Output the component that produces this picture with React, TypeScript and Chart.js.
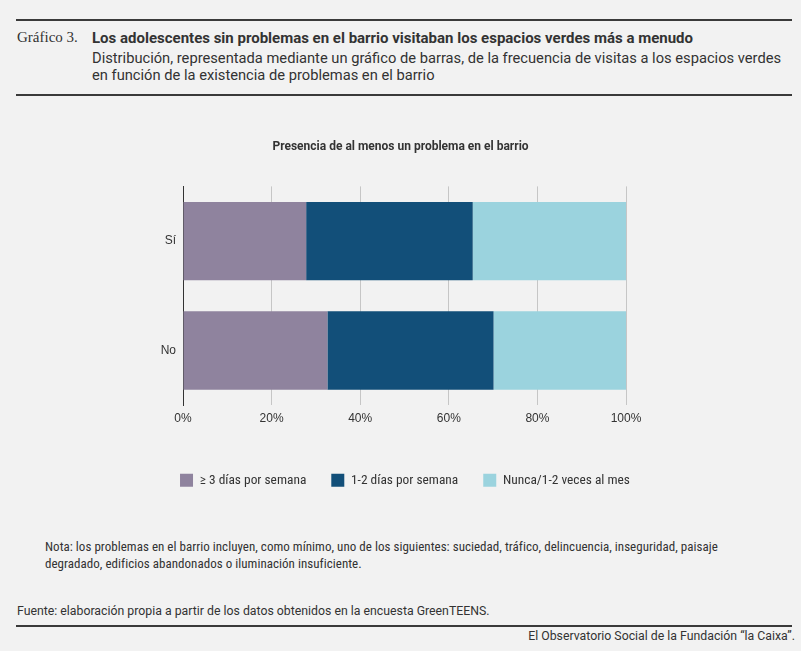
import React, { useEffect, useRef } from "react";
import { Chart, registerables } from "chart.js";

Chart.register(...registerables);

const categories = ["Sí", "No"];
const seriesLabels = ["≥ 3 días por semana", "1-2 días por semana", "Nunca/1-2 veces al mes"];
const frequentValues = [27.8, 32.6];
const weeklyValues = [37.6, 37.5];
const rarelyValues = [34.6, 29.9];
const seriesColors = ["#8f839e", "#124f79", "#9bd3de"];
const xTickValues = [0, 20, 40, 60, 80, 100];

const COND = "'Liberation Sans Narrow', 'Roboto Condensed', 'Liberation Sans', Arial, sans-serif";
const SANS = "Roboto, 'Liberation Sans', Arial, sans-serif";
const TEXT = "#333333";

function BarChart() {
  const ref = useRef<HTMLCanvasElement | null>(null);
  useEffect(() => {
    if (!ref.current) return;
    const chart = new Chart(ref.current, {
      type: "bar",
      data: {
        labels: categories,
        datasets: [frequentValues, weeklyValues, rarelyValues].map((d, i) => ({
          label: seriesLabels[i],
          data: d,
          backgroundColor: seriesColors[i],
          borderWidth: 0,
          barPercentage: 0.716,
          categoryPercentage: 1,
          yAxisID: "y",
        })),
      },
      options: {
        indexAxis: "y",
        animation: false,
        responsive: false,
        devicePixelRatio: 1,
        layout: { padding: { left: 17, right: 8, top: 0, bottom: 0 } },
        scales: {
          x: {
            stacked: true,
            min: 0,
            max: 100,
            afterBuildTicks: (s: any) => {
              s.ticks = xTickValues.map((v) => ({ value: v }));
            },
            ticks: {
              callback: (v: any) => v + "%",
              color: TEXT,
              font: { family: "'Liberation Sans', Arial, sans-serif", size: 12 },
              padding: 6,
              maxRotation: 0,
            },
            grid: { color: "#c6c6c6", lineWidth: 1, drawTicks: false },
            border: { display: false },
            afterFit: (s: any) => {
              s.height += 17;
            },
          },
          y: {
            stacked: true,
            position: "left",
            ticks: {
              color: TEXT,
              font: { family: "'Liberation Sans', Arial, sans-serif", size: 12 },
              padding: 7,
            },
            grid: { display: false, drawTicks: false },
            border: { display: true, color: "#333333", width: 1 },
            afterFit: (s: any) => {
              s.width = 166;
            },
          },
          yRight: {
            type: "category",
            position: "right",
            display: true,
            ticks: { display: false },
            grid: { display: false, drawTicks: false },
            border: { display: false },
            afterFit: (s: any) => {
              s.width = 167;
            },
          },
        },
        plugins: {
          title: {
            display: true,
            text: "Presencia de al menos un problema en el barrio\u00a0\u00a0\u00a0",
            color: TEXT,
            font: { family: SANS, size: 12, weight: "bold" },
            padding: { top: 10, bottom: 32 },
          },
          legend: {
            position: "bottom",
            labels: {
              boxWidth: 13,
              boxHeight: 13,
              padding: 25,
              color: TEXT,
              font: { family: COND, size: 13.4 },
            },
          },
          tooltip: { enabled: false },
        },
      },
    });
    return () => chart.destroy();
  }, []);
  return <canvas ref={ref} width={801} height={367} style={{ position: "absolute", left: 0, top: 130, width: 801, height: 367 }} />;
}

export default function App() {
  const base: React.CSSProperties = { position: "absolute", margin: 0, color: TEXT, fontFamily: SANS, whiteSpace: "nowrap" };
  const rule: React.CSSProperties = { position: "absolute", left: 16, width: 776, height: 2, background: "#3a3a3a" };
  return (
    <div style={{ position: "absolute", left: 0, top: 0, width: 801, height: 651, background: "#f2f2f2", overflow: "hidden" }}>
      <div style={{ ...rule, top: 19 }} />
      <div style={{ ...base, left: 17, top: 29, fontFamily: "'Liberation Serif', serif", fontSize: 15 }}>Gráfico 3.</div>
      <div style={{ ...base, left: 92, top: 29, fontSize: 15, fontWeight: "bold" }}>
        Los adolescentes sin problemas en el barrio visitaban los espacios verdes más a menudo
      </div>
      <div style={{ ...base, left: 92, top: 50, fontSize: 14.7, lineHeight: "17px" }}>
        Distribución, representada mediante un gráfico de barras, de la frecuencia de visitas a los espacios verdes
        <br />
        en función de la existencia de problemas en el barrio
      </div>
      <div style={{ ...rule, top: 94 }} />
      <BarChart />
      <div style={{ ...base, left: 45, top: 538, fontSize: 13, letterSpacing: "0.03px", lineHeight: "17px", fontFamily: COND }}>
        Nota: los problemas en el barrio incluyen, como mínimo, uno de los siguientes: suciedad, tráfico, delincuencia, inseguridad, paisaje
        <br />
        degradado, edificios abandonados o iluminación insuficiente.
      </div>
      <div style={{ ...base, left: 17, top: 604, fontSize: 12.3 }}>
        Fuente: elaboración propia a partir de los datos obtenidos en la encuesta GreenTEENS.
      </div>
      <div style={{ ...rule, top: 625 }} />
      <div style={{ ...base, right: 6, top: 629, fontSize: 12.3 }}>El Observatorio Social de la Fundación “la Caixa”.</div>
    </div>
  );
}
